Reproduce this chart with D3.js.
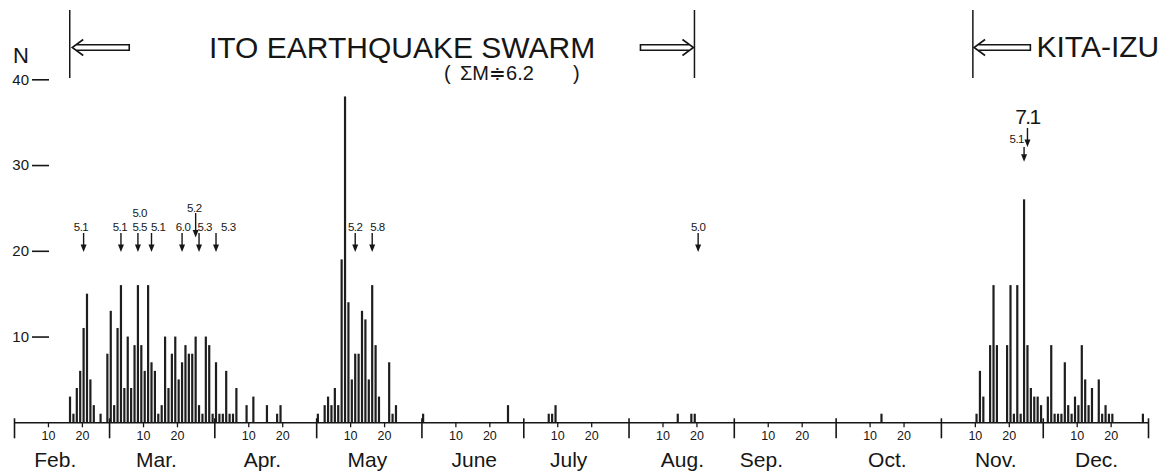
<!DOCTYPE html>
<html><head><meta charset="utf-8">
<script src="https://cdn.jsdelivr.net/npm/d3@7"></script>
<style>
body{margin:0;background:#fff}
svg{display:block}
text{font-family:"Liberation Sans",Arial,Helvetica,sans-serif;fill:#161616}
</style>
</head><body>
<svg id="c" width="1171" height="473"></svg>
<script>
// ---------------- DATA ----------------
const YEAR = 1930;
// daily number of felt earthquakes (N), by date "MM-DD"
const barDates = [
 "02-17","02-18","02-19","02-20","02-21","02-22","02-23","02-24","02-26","02-28",
 "03-01","03-02","03-03","03-04","03-05","03-06","03-07","03-08","03-09","03-10",
 "03-11","03-12","03-13","03-14","03-15","03-16","03-17","03-18","03-19","03-20",
 "03-21","03-22","03-23","03-24","03-25","03-26","03-27","03-28","03-29","03-30","03-31",
 "04-01","04-02","04-03","04-04","04-05","04-06","04-07","04-10","04-12","04-16","04-19","04-20",
 "05-01","05-03","05-04","05-05","05-06","05-07","05-08","05-09","05-10","05-11","05-12",
 "05-13","05-14","05-15","05-16","05-17","05-18","05-19","05-22","05-23","05-24",
 "06-01","06-26",
 "07-08","07-09","07-10",
 "08-15","08-19","08-20",
 "10-14",
 "11-11","11-12","11-13","11-15","11-16","11-17","11-20","11-21","11-22","11-23","11-24",
 "11-25","11-26","11-27","11-28","11-29","11-30",
 "12-02","12-03","12-04","12-05","12-06","12-07","12-08","12-09","12-10","12-11","12-12",
 "12-13","12-14","12-15","12-17","12-18","12-19","12-20","12-21","12-30"
];
const barCounts = [
 3,1,4,6,11,15,5,2,1,8,
 13,2,11,16,4,10,4,9,16,9,
 6,16,7,6,1,2,10,4,8,10,
 5,7,9,8,8,10,2,1,10,9,1,
 7,1,1,6,1,1,4,2,3,2,1,2,
 1,2,3,2,4,2,19,38,14,5,8,
 8,13,12,5,16,9,3,7,1,2,
 1,2,
 1,1,2,
 1,1,1,
 1,
 1,6,3,9,16,9,9,16,1,16,1,
 26,9,4,3,3,2,
 3,9,1,1,1,7,2,1,3,2,9,
 5,2,4,5,1,2,1,1,1
];
const yTickValues = [10, 20, 30, 40];
const monthNames = ["Feb.","Mar.","Apr.","May","June","July","Aug.","Sep.","Oct.","Nov.","Dec."];
const dayTickLabels = [10, 20];
// shocks with magnitude marked by arrows
const quakeDates = ["02-21","03-04","03-09","03-09","03-13","03-22","03-26","03-27","04-01","05-12","05-17","08-21","11-25","11-26"];
const quakeMags  = ["5.1","5.1","5.5","5.0","5.1","6.0","5.2","5.3","5.3","5.2","5.8","5.0","5.1","7.1"];
// period markers: Ito swarm start, Ito swarm end, Kita-Izu start
const periodDates = ["02-17","08-20","11-10"];
const titleText = "ITO EARTHQUAKE SWARM";
const sumText = "ΣM≑6.2";
const kitaText = "KITA-IZU";

// ---------------- LAYOUT ----------------
const INK = "#161616";
const svg = d3.select("#c");
const parse = s => { const [m, d] = s.split("-").map(Number); return new Date(Date.UTC(YEAR, m - 1, d)); };
const mid = d => d3.utcHour.offset(d, 12);

const x = d3.scaleUtc()
  .domain([new Date(Date.UTC(YEAR, 1, 1)), new Date(Date.UTC(YEAR + 1, 0, 1))])
  .range([14, 1148]);
const y = d3.scaleLinear().domain([0, 40]).range([422.3, 79.3]);
const y0 = y(0);

// month label placement (days after month start) and annotation label layout
const monthLabelOffsetDays = [12, 13.8, 14, 14.9, 15.4, 13.2, 15.7, 8, 15.1, 16, 15.7];
const quakeLayout = [
  {dx:-2.6, ly:230.5, a0:233, a1:252},
  {dx:-1,   ly:230.5, a0:233, a1:252},
  {dx:1.7,  ly:230.5, a0:233, a1:252},
  {dx:1.7,  ly:217.3, a0:null},
  {dx:6.7,  ly:230.5, a0:233, a1:252},
  {dx:1,    ly:230.5, a0:233, a1:252},
  {dx:-1.3, ly:211.7, a0:213, a1:237.5},
  {dx:5.7,  ly:230.5, a0:233, a1:252},
  {dx:12.3, ly:230.5, a0:233, a1:252},
  {dx:0,    ly:230.5, a0:233, a1:252},
  {dx:5.3,  ly:230.5, a0:233, a1:252},
  {dx:0,    ly:230.5, a0:233, a1:252},
  {dx:-7.3, ly:143.3, a0:147, a1:161.7},
  {dx:0,    ly:124.3, a0:128, a1:147, big:true}
];

// ---------------- BARS ----------------
const bars = barDates.map((d, i) => ({date: parse(d), n: barCounts[i]}));
svg.append("g").selectAll("rect").data(bars).join("rect")
  .attr("x", d => x(mid(d.date)) - 1.1)
  .attr("width", 2.2)
  .attr("y", d => y(d.n))
  .attr("height", d => y0 - y(d.n))
  .attr("fill", "#1e1e1e");

// ---------------- X AXES ----------------
const monthStarts = d3.utcMonth.range(x.domain()[0], d3.utcDay.offset(x.domain()[1], 1));
const gMonth = svg.append("g").attr("transform", `translate(0,${y0})`)
  .call(d3.axisBottom(x).tickValues(monthStarts).tickSize(16).tickSizeOuter(0).tickFormat(""));
gMonth.select(".domain").attr("stroke", INK).attr("stroke-width", 1.6);
gMonth.selectAll(".tick line").attr("y1", -4).attr("stroke", INK).attr("stroke-width", 1.6);

const dayTicks = [];
d3.utcMonth.range(x.domain()[0], x.domain()[1]).forEach(m => {
  dayTickLabels.forEach(d => dayTicks.push(new Date(Date.UTC(YEAR, m.getUTCMonth(), d + 1))));
});
const gDay = svg.append("g").attr("transform", `translate(0,${y0})`)
  .call(d3.axisBottom(x).tickValues(dayTicks).tickSize(5).tickPadding(4)
    .tickFormat(d => String(d3.utcDay.offset(d, -1).getUTCDate())));
gDay.select(".domain").remove();
gDay.selectAll(".tick line").attr("stroke", INK).attr("stroke-width", 1.3);
gDay.selectAll("text").attr("font-size", 12.5).attr("fill", INK)
  .style("font-family", '"Liberation Sans",Arial,sans-serif');

const monthLabelDates = d3.utcMonth.range(x.domain()[0], x.domain()[1])
  .map((m, i) => d3.utcHour.offset(m, Math.round(monthLabelOffsetDays[i] * 24)));
const gMonLab = svg.append("g").attr("transform", `translate(0,${y0})`)
  .call(d3.axisBottom(x).tickValues(monthLabelDates).tickSize(0).tickPadding(30)
    .tickFormat((d, i) => monthNames[i]));
gMonLab.select(".domain").remove();
gMonLab.selectAll("text").attr("font-size", 21).attr("fill", INK)
  .style("font-family", '"Liberation Sans",Arial,sans-serif');

// ---------------- Y AXIS ----------------
const gY = svg.append("g").attr("transform", "translate(49,0)")
  .call(d3.axisLeft(y).tickValues(yTickValues).tickSize(17).tickPadding(3));
gY.select(".domain").remove();
gY.selectAll(".tick line").attr("stroke", INK).attr("stroke-width", 1.6);
gY.selectAll("text").attr("font-size", 15).attr("fill", INK)
  .style("font-family", '"Liberation Sans",Arial,sans-serif');
svg.append("text").attr("x", 13).attr("y", 62.7).attr("font-size", 22).text("N");

// ---------------- MAGNITUDE ARROWS ----------------
const gQ = svg.append("g");
quakeDates.forEach((ds, i) => {
  const L = quakeLayout[i];
  const cx = x(mid(parse(ds)));
  gQ.append("text").attr("x", cx + L.dx).attr("y", L.ly)
    .attr("text-anchor", "middle")
    .attr("font-size", L.big ? 21 : 11.5)
    .attr("letter-spacing", L.big ? -1.6 : -0.5)
    .text(quakeMags[i]);
  if (L.a0 != null) {
    gQ.append("line").attr("x1", cx).attr("x2", cx).attr("y1", L.a0).attr("y2", L.a1 - 4)
      .attr("stroke", INK).attr("stroke-width", 1.4);
    gQ.append("path")
      .attr("d", `M${cx - 3},${L.a1 - 7.5}L${cx + 3},${L.a1 - 7.5}L${cx},${L.a1}Z`)
      .attr("fill", INK);
  }
});

// ---------------- PERIOD MARKERS ----------------
const px = periodDates.map(s => x(d3.utcHour.offset(parse(s), 10)));
const gP = svg.append("g");
px.forEach(v => gP.append("line").attr("x1", v).attr("x2", v).attr("y1", 10).attr("y2", 78)
  .attr("stroke", INK).attr("stroke-width", 1.5));
function hollowArrow(tip, tail, yc) {
  const dir = Math.sign(tail - tip);
  const hw = 8, hl = 11, sw = 2.8;
  const join = tip + dir * sw * hl / hw;
  gP.append("path")
    .attr("d", `M${tip + dir * hl},${yc - hw}L${tip},${yc}L${tip + dir * hl},${yc + hw}` +
               `M${join},${yc - sw}L${tail},${yc - sw}L${tail},${yc + sw}L${join},${yc + sw}`)
    .attr("fill", "none").attr("stroke", INK).attr("stroke-width", 1.6)
    .attr("stroke-linejoin", "miter");
}
const AY = 47.5;
hollowArrow(px[0] + 2.5, px[0] + 59.5, AY);
hollowArrow(px[1] - 1, px[1] - 54, AY);
hollowArrow(px[2] + 1.2, px[2] + 57.5, AY);

// ---------------- TITLES ----------------
svg.append("text").attr("x", 209).attr("y", 58.3).attr("font-size", 30).text(titleText);
svg.append("text").attr("x", 1036.5).attr("y", 56.5).attr("font-size", 30).text(kitaText);
svg.append("text").attr("x", 444).attr("y", 80.3).attr("font-size", 20).text("(");
svg.append("text").attr("x", 460).attr("y", 80.3).attr("font-size", 20).text(sumText);
svg.append("text").attr("x", 573).attr("y", 80.3).attr("font-size", 20).text(")");
</script>
</body></html>
